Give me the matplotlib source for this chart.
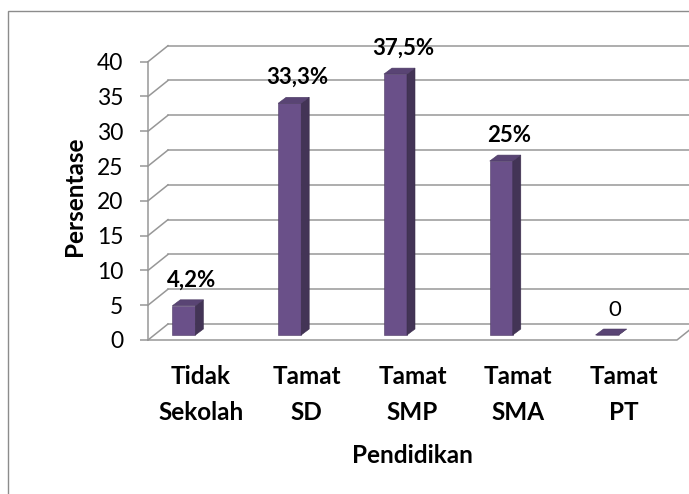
import numpy as np
import matplotlib
matplotlib.use('Agg')
import matplotlib.pyplot as plt
from matplotlib.patches import Polygon, Rectangle

# data
categories = ['Tidak\nSekolah', 'Tamat\nSD', 'Tamat\nSMP', 'Tamat\nSMA', 'Tamat\nPT']
values = [4.2, 33.3, 37.5, 25, 0]
value_labels = ['4,2%', '33,3%', '37,5%', '25%', '0']
label_bold = [True, True, True, True, False]
yticks = [0, 5, 10, 15, 20, 25, 30, 35, 40]

plt.rcParams['font.family'] = ['Lato', 'DejaVu Sans']

W, H = 689, 494
fig = plt.figure(figsize=(W / 100, H / 100), dpi=100)
fig.patch.set_facecolor('white')

# outer chart frame (runs off the right and bottom edge)
fig.add_artist(Rectangle((7.5 / W, -0.1), 2, (H - 10.7) / H + 0.1,
                         transform=fig.transFigure, fill=False,
                         edgecolor='#8c8c8c', lw=1.0))

# front plane of the 3d box
ax = fig.add_axes([148 / W, 154 / H, 529 / W, 278.3 / H])
ax.set_xlim(0, 5)
ax.set_ylim(0, 40)
ax.patch.set_visible(False)
for s in ax.spines.values():
    s.set_visible(False)

grid_col = '#979797'
dx, dy = 0.189, 2.3          # depth of the box (data units)
f = 0.3125                   # bars stand this far into the box
ddx, ddy = 0.0756, 0.86      # depth of each bar
bw = 0.218
x0 = np.arange(len(values)) + 0.23
base = f * dy

for v in yticks:
    ax.plot([0, dx], [v, v + dy], color=grid_col, lw=1.1, clip_on=False, zorder=1)
    ax.plot([dx, 5 + dx + 0.3], [v + dy, v + dy], color=grid_col, lw=1.1,
            clip_on=False, zorder=1)
ax.plot([0, 0], [0, 40], color=grid_col, lw=1.1, clip_on=False, zorder=1)
ax.plot([0, 5, 5 + dx], [0, 0, dy], color=grid_col, lw=1.1, clip_on=False, zorder=1)

front_col = '#6a5089'
side_col = '#433456'
top_col = '#594474'

ax.bar(x0, values, width=bw, bottom=base, align='edge', color=front_col,
       edgecolor='#4e3b66', lw=0.4, zorder=3)
for x, v in zip(x0, values):
    side = [(x + bw, base), (x + bw + ddx, base + ddy),
            (x + bw + ddx, base + v + ddy), (x + bw, base + v)]
    top = [(x, base + v), (x + bw, base + v),
           (x + bw + ddx, base + v + ddy), (x + ddx, base + v + ddy)]
    ax.add_patch(Polygon(side, closed=True, facecolor=side_col,
                         edgecolor='#3a2d4b', lw=0.4, zorder=3))
    ax.add_patch(Polygon(top, closed=True, facecolor=top_col,
                         edgecolor='#4a3962', lw=0.4, zorder=3, clip_on=False))

for x, v, lab, b in zip(x0, values, value_labels, label_bold):
    ax.annotate(lab, (x + bw / 2 + ddx, base + v + ddy), xytext=(0, 9.5),
                textcoords='offset points', ha='center', va='baseline',
                fontsize=16, fontweight='bold' if b else 'normal',
                color='black', annotation_clip=False)

ax.set_yticks(yticks)
ax.tick_params(axis='y', length=5.8, width=1.1, color=grid_col, pad=12,
               labelsize=16.5)
ax.set_xticks(np.arange(len(categories)) + 0.5)
ax.set_xticklabels(categories, fontweight='bold', fontsize=17.5, linespacing=1.68)
ax.tick_params(axis='x', length=0, pad=18)

ax.set_xlabel('Pendidikan', fontsize=17.5, fontweight='bold')
ax.xaxis.set_label_coords(0.499, -0.373)
ax.set_ylabel('Persentase', fontsize=17.5, fontweight='bold')
ax.yaxis.set_label_coords(-0.118, 0.5174)

fig.savefig('out.png', dpi=100)
